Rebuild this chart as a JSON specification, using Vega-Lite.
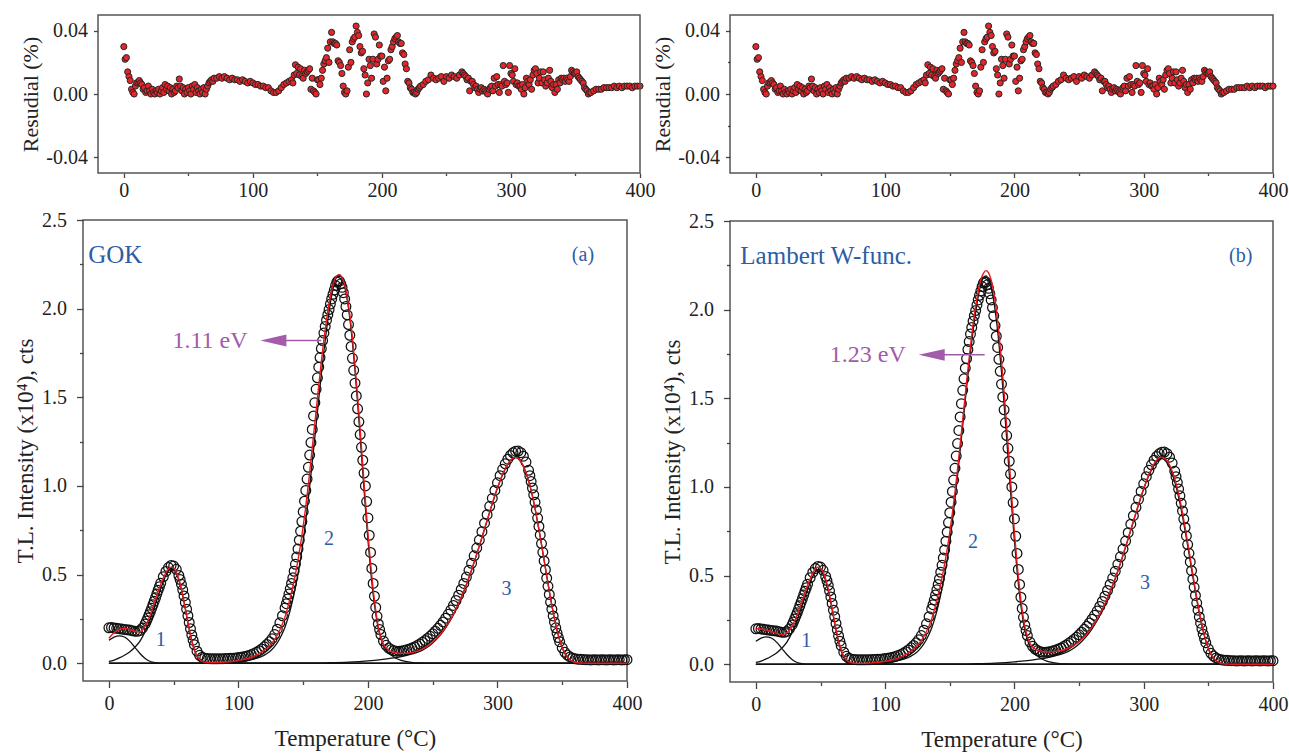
{
"$schema": "https://vega.github.io/schema/vega-lite/v6.json",
"padding": {"left": 13, "top": 14, "right": 0, "bottom": 0},
"config": {
  "font": "Liberation Serif",
  "view": {"stroke": "#555555", "strokeWidth": 1.5},
  "axis": {"domain": false, "grid": false, "labelFont": "Liberation Serif", "labelFontSize": 20, "labelColor": "#222222", "titleFont": "Liberation Serif", "titleFontSize": 23, "titleFontWeight": "normal", "titleColor": "#222222", "tickColor": "#444444", "tickWidth": 1.3, "labelOverlap": false, "labelFlush": false, "labelBound": false},
  "text": {"font": "Liberation Serif"}
},
"datasets": {
"tl": [
{"t":0,"i":0.200},{"t":2,"i":0.202},{"t":4,"i":0.199},{"t":6,"i":0.197},{"t":8,"i":0.195},{"t":10,"i":0.193},{"t":12,"i":0.191},{"t":14,"i":0.189},{"t":16,"i":0.187},{"t":18,"i":0.184},{"t":20,"i":0.181},{"t":22,"i":0.180},{"t":24,"i":0.185},{"t":26,"i":0.199},{"t":28,"i":0.222},{"t":29,"i":0.238},{"t":30,"i":0.255},{"t":31,"i":0.273},{"t":32,"i":0.291},{"t":33,"i":0.310},{"t":34,"i":0.330},{"t":35,"i":0.350},{"t":36,"i":0.370},{"t":37,"i":0.391},{"t":38,"i":0.412},{"t":39,"i":0.432},{"t":40,"i":0.452},{"t":42,"i":0.488},{"t":44,"i":0.518},{"t":46,"i":0.540},{"t":48,"i":0.552},{"t":50,"i":0.548},{"t":52,"i":0.530},{"t":54,"i":0.495},{"t":55,"i":0.472},{"t":56,"i":0.445},{"t":57,"i":0.414},{"t":58,"i":0.380},{"t":59,"i":0.343},{"t":60,"i":0.305},{"t":61,"i":0.268},{"t":62,"i":0.230},{"t":63,"i":0.194},{"t":64,"i":0.160},{"t":65,"i":0.130},{"t":66,"i":0.105},{"t":68,"i":0.068},{"t":70,"i":0.045},{"t":72,"i":0.034},{"t":74,"i":0.029},{"t":76,"i":0.027},{"t":78,"i":0.026},{"t":80,"i":0.025},{"t":82,"i":0.025},{"t":84,"i":0.025},{"t":86,"i":0.026},{"t":88,"i":0.026},{"t":90,"i":0.027},{"t":92,"i":0.027},{"t":94,"i":0.028},{"t":96,"i":0.029},{"t":98,"i":0.030},{"t":100,"i":0.032},{"t":102,"i":0.034},{"t":104,"i":0.037},{"t":106,"i":0.040},{"t":108,"i":0.044},{"t":110,"i":0.049},{"t":112,"i":0.055},{"t":114,"i":0.062},{"t":116,"i":0.071},{"t":118,"i":0.081},{"t":120,"i":0.093},{"t":122,"i":0.106},{"t":124,"i":0.121},{"t":126,"i":0.139},{"t":128,"i":0.162},{"t":130,"i":0.192},{"t":132,"i":0.228},{"t":134,"i":0.268},{"t":136,"i":0.312},{"t":137,"i":0.336},{"t":138,"i":0.362},{"t":139,"i":0.390},{"t":140,"i":0.420},{"t":141,"i":0.450},{"t":142,"i":0.482},{"t":143,"i":0.519},{"t":144,"i":0.558},{"t":145,"i":0.600},{"t":146,"i":0.645},{"t":147,"i":0.694},{"t":148,"i":0.745},{"t":149,"i":0.799},{"t":150,"i":0.855},{"t":151,"i":0.914},{"t":152,"i":0.975},{"t":153,"i":1.039},{"t":154,"i":1.105},{"t":155,"i":1.174},{"t":156,"i":1.245},{"t":157,"i":1.319},{"t":158,"i":1.395},{"t":159,"i":1.470},{"t":160,"i":1.545},{"t":161,"i":1.610},{"t":162,"i":1.670},{"t":163,"i":1.724},{"t":164,"i":1.775},{"t":165,"i":1.820},{"t":166,"i":1.862},{"t":167,"i":1.900},{"t":168,"i":1.935},{"t":169,"i":1.966},{"t":170,"i":1.995},{"t":171,"i":2.026},{"t":172,"i":2.055},{"t":173,"i":2.081},{"t":174,"i":2.105},{"t":175,"i":2.130},{"t":176,"i":2.150},{"t":177,"i":2.158},{"t":178,"i":2.155},{"t":179,"i":2.140},{"t":180,"i":2.120},{"t":181,"i":2.090},{"t":182,"i":2.055},{"t":183,"i":2.012},{"t":184,"i":1.965},{"t":185,"i":1.910},{"t":186,"i":1.850},{"t":187,"i":1.787},{"t":188,"i":1.720},{"t":189,"i":1.652},{"t":190,"i":1.580},{"t":191,"i":1.508},{"t":192,"i":1.435},{"t":193,"i":1.362},{"t":194,"i":1.290},{"t":195,"i":1.218},{"t":196,"i":1.145},{"t":197,"i":1.073},{"t":198,"i":1.000},{"t":199,"i":0.912},{"t":200,"i":0.820},{"t":201,"i":0.722},{"t":202,"i":0.625},{"t":203,"i":0.535},{"t":204,"i":0.450},{"t":205,"i":0.378},{"t":206,"i":0.315},{"t":207,"i":0.265},{"t":208,"i":0.222},{"t":209,"i":0.190},{"t":210,"i":0.162},{"t":212,"i":0.125},{"t":214,"i":0.101},{"t":216,"i":0.086},{"t":218,"i":0.077},{"t":220,"i":0.071},{"t":222,"i":0.068},{"t":224,"i":0.068},{"t":226,"i":0.069},{"t":228,"i":0.072},{"t":230,"i":0.076},{"t":232,"i":0.080},{"t":234,"i":0.086},{"t":236,"i":0.092},{"t":238,"i":0.100},{"t":240,"i":0.108},{"t":242,"i":0.118},{"t":244,"i":0.128},{"t":246,"i":0.140},{"t":248,"i":0.152},{"t":250,"i":0.166},{"t":252,"i":0.181},{"t":254,"i":0.197},{"t":256,"i":0.214},{"t":258,"i":0.233},{"t":260,"i":0.254},{"t":262,"i":0.276},{"t":264,"i":0.300},{"t":266,"i":0.326},{"t":268,"i":0.354},{"t":270,"i":0.384},{"t":272,"i":0.416},{"t":274,"i":0.450},{"t":276,"i":0.486},{"t":278,"i":0.524},{"t":280,"i":0.564},{"t":282,"i":0.606},{"t":284,"i":0.650},{"t":286,"i":0.695},{"t":288,"i":0.742},{"t":290,"i":0.790},{"t":292,"i":0.838},{"t":294,"i":0.885},{"t":296,"i":0.930},{"t":298,"i":0.975},{"t":300,"i":1.018},{"t":302,"i":1.058},{"t":304,"i":1.094},{"t":306,"i":1.125},{"t":308,"i":1.151},{"t":310,"i":1.172},{"t":312,"i":1.187},{"t":314,"i":1.196},{"t":316,"i":1.197},{"t":318,"i":1.188},{"t":320,"i":1.168},{"t":322,"i":1.135},{"t":324,"i":1.088},{"t":325,"i":1.058},{"t":326,"i":1.025},{"t":327,"i":0.988},{"t":328,"i":0.950},{"t":329,"i":0.908},{"t":330,"i":0.865},{"t":331,"i":0.819},{"t":332,"i":0.772},{"t":333,"i":0.724},{"t":334,"i":0.675},{"t":335,"i":0.626},{"t":336,"i":0.577},{"t":337,"i":0.528},{"t":338,"i":0.480},{"t":339,"i":0.434},{"t":340,"i":0.388},{"t":341,"i":0.345},{"t":342,"i":0.305},{"t":343,"i":0.267},{"t":344,"i":0.232},{"t":345,"i":0.200},{"t":346,"i":0.170},{"t":347,"i":0.145},{"t":348,"i":0.122},{"t":350,"i":0.087},{"t":352,"i":0.062},{"t":354,"i":0.046},{"t":356,"i":0.036},{"t":358,"i":0.029},{"t":360,"i":0.025},{"t":362,"i":0.023},{"t":364,"i":0.022},{"t":366,"i":0.021},{"t":368,"i":0.020},{"t":370,"i":0.020},{"t":372,"i":0.019},{"t":374,"i":0.020},{"t":376,"i":0.020},{"t":378,"i":0.019},{"t":380,"i":0.020},{"t":382,"i":0.020},{"t":384,"i":0.019},{"t":386,"i":0.020},{"t":388,"i":0.020},{"t":390,"i":0.019},{"t":392,"i":0.020},{"t":394,"i":0.020},{"t":396,"i":0.019},{"t":398,"i":0.020},{"t":400,"i":0.020}
],
"res": [
{"t":0,"r":0.030},{"t":1,"r":0.022},{"t":2,"r":0.023},{"t":3,"r":0.014},{"t":4,"r":0.011},{"t":5,"r":0.0085},{"t":6,"r":0.003},{"t":7,"r":0.001},{"t":8,"r":0.000},{"t":9,"r":0.005},{"t":10,"r":0.007},{"t":11,"r":0.0075},{"t":12,"r":0.0085},{"t":13,"r":0.007},{"t":14,"r":0.006},{"t":15,"r":0.003},{"t":16,"r":0.004},{"t":17,"r":0.001},{"t":18,"r":0.002},{"t":19,"r":0.005},{"t":20,"r":0.002},{"t":21,"r":0.000},{"t":22,"r":0.003},{"t":23,"r":0.001},{"t":24,"r":0.000},{"t":25,"r":0.002},{"t":26,"r":0.001},{"t":27,"r":0.003},{"t":28,"r":0.000},{"t":29,"r":0.002},{"t":30,"r":0.004},{"t":31,"r":0.001},{"t":32,"r":0.006},{"t":33,"r":0.003},{"t":34,"r":0.005},{"t":35,"r":0.002},{"t":36,"r":0.004},{"t":37,"r":0.000},{"t":38,"r":0.003},{"t":39,"r":0.001},{"t":40,"r":0.002},{"t":41,"r":0.005},{"t":42,"r":0.004},{"t":43,"r":0.0095},{"t":44,"r":0.005},{"t":45,"r":0.002},{"t":46,"r":0.004},{"t":47,"r":0.000},{"t":48,"r":0.003},{"t":49,"r":0.001},{"t":50,"r":0.004},{"t":51,"r":0.002},{"t":52,"r":0.000},{"t":53,"r":0.005},{"t":54,"r":0.003},{"t":55,"r":0.006},{"t":56,"r":0.001},{"t":57,"r":0.004},{"t":58,"r":0.002},{"t":59,"r":0.000},{"t":60,"r":0.003},{"t":61,"r":0.001},{"t":62,"r":0.004},{"t":63,"r":0.000},{"t":64,"r":0.003},{"t":65,"r":0.005},{"t":66,"r":0.007},{"t":67,"r":0.008},{"t":68,"r":0.009},{"t":69,"r":0.008},{"t":70,"r":0.010},{"t":72,"r":0.010},{"t":74,"r":0.011},{"t":76,"r":0.010},{"t":78,"r":0.011},{"t":80,"r":0.010},{"t":82,"r":0.009},{"t":84,"r":0.010},{"t":86,"r":0.009},{"t":88,"r":0.009},{"t":90,"r":0.008},{"t":92,"r":0.009},{"t":94,"r":0.008},{"t":96,"r":0.007},{"t":98,"r":0.008},{"t":100,"r":0.007},{"t":102,"r":0.006},{"t":104,"r":0.006},{"t":106,"r":0.005},{"t":108,"r":0.005},{"t":110,"r":0.004},{"t":112,"r":0.004},{"t":114,"r":0.002},{"t":116,"r":0.001},{"t":118,"r":0.001},{"t":120,"r":0.002},{"t":122,"r":0.004},{"t":124,"r":0.006},{"t":126,"r":0.007},{"t":128,"r":0.008},{"t":130,"r":0.009},{"t":131,"r":0.007},{"t":132,"r":0.012},{"t":133,"r":0.0185},{"t":134,"r":0.013},{"t":135,"r":0.017},{"t":136,"r":0.012},{"t":137,"r":0.016},{"t":138,"r":0.011},{"t":139,"r":0.010},{"t":140,"r":0.015},{"t":141,"r":0.013},{"t":142,"r":0.014},{"t":143,"r":0.015},{"t":144,"r":0.016},{"t":145,"r":0.003},{"t":146,"r":0.010},{"t":147,"r":0.002},{"t":148,"r":0.001},{"t":149,"r":0.000},{"t":150,"r":0.009},{"t":151,"r":0.009},{"t":152,"r":0.006},{"t":153,"r":0.010},{"t":154,"r":0.015},{"t":155,"r":0.019},{"t":156,"r":0.021},{"t":157,"r":0.023},{"t":158,"r":0.029},{"t":159,"r":0.020},{"t":160,"r":0.033},{"t":161,"r":0.039},{"t":162,"r":0.033},{"t":163,"r":0.032},{"t":164,"r":0.032},{"t":165,"r":0.031},{"t":166,"r":0.021},{"t":167,"r":0.020},{"t":168,"r":0.018},{"t":169,"r":0.013},{"t":170,"r":0.005},{"t":171,"r":0.001},{"t":172,"r":0.000},{"t":173,"r":0.002},{"t":174,"r":0.017},{"t":175,"r":0.028},{"t":176,"r":0.020},{"t":177,"r":0.033},{"t":178,"r":0.035},{"t":179,"r":0.036},{"t":180,"r":0.043},{"t":181,"r":0.039},{"t":182,"r":0.037},{"t":183,"r":0.030},{"t":184,"r":0.026},{"t":185,"r":0.027},{"t":186,"r":0.016},{"t":187,"r":0.012},{"t":188,"r":0.000},{"t":189,"r":0.007},{"t":190,"r":0.022},{"t":191,"r":0.018},{"t":192,"r":0.010},{"t":193,"r":0.022},{"t":194,"r":0.038},{"t":195,"r":0.036},{"t":196,"r":0.019},{"t":197,"r":0.022},{"t":198,"r":0.031},{"t":199,"r":0.024},{"t":200,"r":0.024},{"t":201,"r":0.008},{"t":202,"r":0.017},{"t":203,"r":0.002},{"t":204,"r":0.010},{"t":205,"r":0.021},{"t":206,"r":0.022},{"t":207,"r":0.028},{"t":208,"r":0.030},{"t":209,"r":0.033},{"t":210,"r":0.035},{"t":211,"r":0.036},{"t":212,"r":0.037},{"t":213,"r":0.033},{"t":214,"r":0.032},{"t":215,"r":0.032},{"t":216,"r":0.026},{"t":217,"r":0.025},{"t":218,"r":0.019},{"t":219,"r":0.016},{"t":220,"r":0.008},{"t":221,"r":0.007},{"t":222,"r":0.004},{"t":223,"r":0.003},{"t":224,"r":0.001},{"t":225,"r":0.001},{"t":226,"r":0.000},{"t":227,"r":0.001},{"t":228,"r":0.003},{"t":229,"r":0.004},{"t":230,"r":0.005},{"t":232,"r":0.006},{"t":234,"r":0.008},{"t":236,"r":0.009},{"t":238,"r":0.012},{"t":240,"r":0.010},{"t":242,"r":0.009},{"t":244,"r":0.010},{"t":246,"r":0.011},{"t":248,"r":0.008},{"t":250,"r":0.011},{"t":252,"r":0.010},{"t":254,"r":0.012},{"t":256,"r":0.011},{"t":258,"r":0.010},{"t":260,"r":0.012},{"t":262,"r":0.014},{"t":263,"r":0.013},{"t":264,"r":0.012},{"t":265,"r":0.011},{"t":266,"r":0.009},{"t":267,"r":0.010},{"t":268,"r":0.002},{"t":269,"r":0.008},{"t":270,"r":0.008},{"t":271,"r":0.006},{"t":272,"r":0.004},{"t":273,"r":0.005},{"t":274,"r":0.003},{"t":275,"r":0.001},{"t":276,"r":0.003},{"t":277,"r":0.004},{"t":278,"r":0.002},{"t":279,"r":0.003},{"t":280,"r":0.002},{"t":281,"r":0.001},{"t":282,"r":0.000},{"t":283,"r":0.003},{"t":284,"r":0.004},{"t":285,"r":0.005},{"t":286,"r":0.002},{"t":287,"r":0.010},{"t":288,"r":0.005},{"t":289,"r":0.011},{"t":290,"r":0.006},{"t":291,"r":0.001},{"t":292,"r":0.006},{"t":293,"r":0.005},{"t":294,"r":0.018},{"t":295,"r":0.008},{"t":296,"r":0.006},{"t":297,"r":0.007},{"t":298,"r":0.001},{"t":299,"r":0.018},{"t":300,"r":0.013},{"t":301,"r":0.012},{"t":302,"r":0.008},{"t":303,"r":0.016},{"t":304,"r":0.006},{"t":305,"r":0.007},{"t":306,"r":0.005},{"t":307,"r":0.005},{"t":308,"r":0.003},{"t":309,"r":0.006},{"t":310,"r":0.000},{"t":311,"r":0.004},{"t":312,"r":0.010},{"t":313,"r":0.008},{"t":314,"r":0.006},{"t":315,"r":0.009},{"t":316,"r":0.003},{"t":317,"r":0.012},{"t":318,"r":0.015},{"t":319,"r":0.016},{"t":320,"r":0.013},{"t":321,"r":0.007},{"t":322,"r":0.010},{"t":323,"r":0.014},{"t":324,"r":0.007},{"t":325,"r":0.014},{"t":326,"r":0.009},{"t":327,"r":0.005},{"t":328,"r":0.007},{"t":329,"r":0.010},{"t":330,"r":0.015},{"t":331,"r":0.008},{"t":332,"r":0.004},{"t":333,"r":0.006},{"t":334,"r":0.001},{"t":335,"r":0.006},{"t":336,"r":0.003},{"t":337,"r":0.009},{"t":338,"r":0.007},{"t":339,"r":0.010},{"t":340,"r":0.009},{"t":341,"r":0.010},{"t":342,"r":0.008},{"t":343,"r":0.010},{"t":344,"r":0.009},{"t":345,"r":0.008},{"t":346,"r":0.011},{"t":347,"r":0.015},{"t":348,"r":0.014},{"t":349,"r":0.013},{"t":350,"r":0.013},{"t":351,"r":0.014},{"t":352,"r":0.011},{"t":353,"r":0.010},{"t":354,"r":0.009},{"t":355,"r":0.008},{"t":356,"r":0.007},{"t":357,"r":0.004},{"t":358,"r":0.003},{"t":359,"r":0.002},{"t":360,"r":0.000},{"t":361,"r":0.001},{"t":362,"r":0.001},{"t":364,"r":0.002},{"t":366,"r":0.003},{"t":368,"r":0.003},{"t":370,"r":0.003},{"t":372,"r":0.004},{"t":374,"r":0.004},{"t":376,"r":0.004},{"t":378,"r":0.004},{"t":380,"r":0.005},{"t":382,"r":0.004},{"t":384,"r":0.005},{"t":386,"r":0.004},{"t":388,"r":0.005},{"t":390,"r":0.005},{"t":392,"r":0.005},{"t":394,"r":0.004},{"t":396,"r":0.005},{"t":398,"r":0.005},{"t":400,"r":0.005}
],
"fitA": [
{"t":0,"i":0.140},{"t":2,"i":0.158},{"t":4,"i":0.172},{"t":6,"i":0.183},{"t":8,"i":0.190},{"t":10,"i":0.195},{"t":12,"i":0.197},{"t":14,"i":0.195},{"t":16,"i":0.190},{"t":18,"i":0.185},{"t":20,"i":0.180},{"t":22,"i":0.177},{"t":24,"i":0.178},{"t":26,"i":0.188},{"t":28,"i":0.208},{"t":30,"i":0.238},{"t":32,"i":0.275},{"t":34,"i":0.318},{"t":36,"i":0.362},{"t":38,"i":0.405},{"t":40,"i":0.446},{"t":42,"i":0.482},{"t":44,"i":0.512},{"t":46,"i":0.533},{"t":48,"i":0.542},{"t":50,"i":0.536},{"t":52,"i":0.514},{"t":54,"i":0.475},{"t":56,"i":0.418},{"t":58,"i":0.348},{"t":60,"i":0.270},{"t":62,"i":0.194},{"t":64,"i":0.127},{"t":66,"i":0.076},{"t":68,"i":0.041},{"t":70,"i":0.021},{"t":72,"i":0.011},{"t":75,"i":0.005},{"t":80,"i":0.004},{"t":85,"i":0.005},{"t":90,"i":0.007},{"t":95,"i":0.010},{"t":100,"i":0.015},{"t":105,"i":0.023},{"t":110,"i":0.034},{"t":115,"i":0.050},{"t":120,"i":0.073},{"t":124,"i":0.098},{"t":128,"i":0.135},{"t":132,"i":0.188},{"t":136,"i":0.262},{"t":140,"i":0.370},{"t":142,"i":0.432},{"t":144,"i":0.502},{"t":146,"i":0.582},{"t":148,"i":0.672},{"t":150,"i":0.772},{"t":152,"i":0.885},{"t":154,"i":1.010},{"t":156,"i":1.145},{"t":158,"i":1.285},{"t":160,"i":1.425},{"t":162,"i":1.565},{"t":164,"i":1.700},{"t":166,"i":1.825},{"t":168,"i":1.935},{"t":170,"i":2.030},{"t":172,"i":2.105},{"t":174,"i":2.158},{"t":176,"i":2.186},{"t":178,"i":2.192},{"t":180,"i":2.175},{"t":182,"i":2.135},{"t":184,"i":2.065},{"t":186,"i":1.965},{"t":188,"i":1.835},{"t":190,"i":1.680},{"t":192,"i":1.505},{"t":194,"i":1.315},{"t":196,"i":1.118},{"t":198,"i":0.922},{"t":200,"i":0.735},{"t":202,"i":0.565},{"t":204,"i":0.418},{"t":206,"i":0.298},{"t":208,"i":0.207},{"t":210,"i":0.145},{"t":212,"i":0.108},{"t":214,"i":0.087},{"t":216,"i":0.075},{"t":218,"i":0.067},{"t":220,"i":0.062},{"t":224,"i":0.057},{"t":228,"i":0.056},{"t":232,"i":0.058},{"t":236,"i":0.064},{"t":240,"i":0.074},{"t":244,"i":0.088},{"t":248,"i":0.107},{"t":252,"i":0.132},{"t":256,"i":0.164},{"t":260,"i":0.204},{"t":264,"i":0.251},{"t":268,"i":0.306},{"t":272,"i":0.372},{"t":276,"i":0.446},{"t":280,"i":0.528},{"t":284,"i":0.617},{"t":288,"i":0.711},{"t":292,"i":0.807},{"t":296,"i":0.902},{"t":300,"i":0.990},{"t":304,"i":1.066},{"t":306,"i":1.097},{"t":308,"i":1.123},{"t":310,"i":1.144},{"t":312,"i":1.157},{"t":314,"i":1.161},{"t":316,"i":1.155},{"t":318,"i":1.138},{"t":320,"i":1.112},{"t":322,"i":1.076},{"t":324,"i":1.030},{"t":326,"i":0.975},{"t":328,"i":0.910},{"t":330,"i":0.835},{"t":332,"i":0.755},{"t":334,"i":0.670},{"t":336,"i":0.582},{"t":338,"i":0.494},{"t":340,"i":0.408},{"t":342,"i":0.326},{"t":344,"i":0.253},{"t":346,"i":0.187},{"t":348,"i":0.133},{"t":350,"i":0.089},{"t":352,"i":0.057},{"t":354,"i":0.035},{"t":356,"i":0.020},{"t":358,"i":0.011},{"t":362,"i":0.003},{"t":366,"i":0.001},{"t":370,"i":0.000},{"t":400,"i":0.000}
],
"fitB": [
{"t":0,"i":0.200},{"t":2,"i":0.200},{"t":4,"i":0.199},{"t":6,"i":0.197},{"t":8,"i":0.193},{"t":10,"i":0.189},{"t":12,"i":0.184},{"t":14,"i":0.179},{"t":16,"i":0.174},{"t":18,"i":0.170},{"t":20,"i":0.168},{"t":22,"i":0.170},{"t":24,"i":0.178},{"t":26,"i":0.193},{"t":28,"i":0.215},{"t":30,"i":0.245},{"t":32,"i":0.280},{"t":34,"i":0.320},{"t":36,"i":0.362},{"t":38,"i":0.404},{"t":40,"i":0.445},{"t":42,"i":0.482},{"t":44,"i":0.514},{"t":46,"i":0.537},{"t":48,"i":0.548},{"t":50,"i":0.543},{"t":52,"i":0.521},{"t":54,"i":0.481},{"t":56,"i":0.425},{"t":58,"i":0.355},{"t":60,"i":0.277},{"t":62,"i":0.200},{"t":64,"i":0.132},{"t":66,"i":0.080},{"t":68,"i":0.045},{"t":70,"i":0.024},{"t":72,"i":0.013},{"t":75,"i":0.007},{"t":80,"i":0.005},{"t":85,"i":0.006},{"t":90,"i":0.008},{"t":95,"i":0.011},{"t":100,"i":0.016},{"t":105,"i":0.024},{"t":110,"i":0.035},{"t":115,"i":0.051},{"t":120,"i":0.074},{"t":124,"i":0.099},{"t":128,"i":0.134},{"t":132,"i":0.185},{"t":136,"i":0.256},{"t":140,"i":0.360},{"t":142,"i":0.420},{"t":144,"i":0.488},{"t":146,"i":0.565},{"t":148,"i":0.650},{"t":150,"i":0.745},{"t":152,"i":0.852},{"t":154,"i":0.970},{"t":156,"i":1.100},{"t":158,"i":1.238},{"t":160,"i":1.380},{"t":162,"i":1.522},{"t":164,"i":1.662},{"t":166,"i":1.795},{"t":168,"i":1.915},{"t":170,"i":2.020},{"t":172,"i":2.105},{"t":174,"i":2.168},{"t":176,"i":2.205},{"t":178,"i":2.220},{"t":180,"i":2.208},{"t":182,"i":2.168},{"t":184,"i":2.098},{"t":186,"i":1.998},{"t":188,"i":1.868},{"t":190,"i":1.712},{"t":192,"i":1.535},{"t":194,"i":1.342},{"t":196,"i":1.140},{"t":198,"i":0.938},{"t":200,"i":0.745},{"t":202,"i":0.572},{"t":204,"i":0.425},{"t":206,"i":0.305},{"t":208,"i":0.215},{"t":210,"i":0.155},{"t":212,"i":0.118},{"t":214,"i":0.097},{"t":216,"i":0.086},{"t":218,"i":0.079},{"t":220,"i":0.075},{"t":224,"i":0.071},{"t":228,"i":0.070},{"t":232,"i":0.072},{"t":236,"i":0.077},{"t":240,"i":0.086},{"t":244,"i":0.099},{"t":248,"i":0.117},{"t":252,"i":0.141},{"t":256,"i":0.171},{"t":260,"i":0.209},{"t":264,"i":0.255},{"t":268,"i":0.310},{"t":272,"i":0.375},{"t":276,"i":0.448},{"t":280,"i":0.529},{"t":284,"i":0.618},{"t":288,"i":0.712},{"t":292,"i":0.808},{"t":296,"i":0.903},{"t":300,"i":0.992},{"t":304,"i":1.070},{"t":306,"i":1.103},{"t":308,"i":1.130},{"t":310,"i":1.151},{"t":312,"i":1.164},{"t":314,"i":1.168},{"t":316,"i":1.163},{"t":318,"i":1.148},{"t":320,"i":1.124},{"t":322,"i":1.090},{"t":324,"i":1.046},{"t":326,"i":0.992},{"t":328,"i":0.928},{"t":330,"i":0.854},{"t":332,"i":0.774},{"t":334,"i":0.688},{"t":336,"i":0.598},{"t":338,"i":0.508},{"t":340,"i":0.420},{"t":342,"i":0.336},{"t":344,"i":0.260},{"t":346,"i":0.192},{"t":348,"i":0.136},{"t":350,"i":0.091},{"t":352,"i":0.058},{"t":354,"i":0.036},{"t":356,"i":0.021},{"t":358,"i":0.011},{"t":362,"i":0.003},{"t":366,"i":0.001},{"t":370,"i":0.000},{"t":400,"i":0.000}
],
"comp": [
{"c":"0","t":0,"i":0.130},{"c":"0","t":4,"i":0.148},{"c":"0","t":8,"i":0.155},{"c":"0","t":12,"i":0.148},{"c":"0","t":16,"i":0.125},{"c":"0","t":20,"i":0.090},{"c":"0","t":24,"i":0.055},{"c":"0","t":28,"i":0.027},{"c":"0","t":32,"i":0.010},{"c":"0","t":36,"i":0.003},{"c":"0","t":40,"i":0.000},{"c":"0","t":400,"i":0.000},
{"c":"1","t":0,"i":0.010},{"c":"1","t":4,"i":0.018},{"c":"1","t":8,"i":0.030},{"c":"1","t":12,"i":0.045},{"c":"1","t":16,"i":0.063},{"c":"1","t":20,"i":0.090},{"c":"1","t":24,"i":0.125},{"c":"1","t":28,"i":0.180},{"c":"1","t":32,"i":0.250},{"c":"1","t":36,"i":0.335},{"c":"1","t":40,"i":0.420},{"c":"1","t":44,"i":0.495},{"c":"1","t":46,"i":0.522},{"c":"1","t":48,"i":0.535},{"c":"1","t":50,"i":0.530},{"c":"1","t":52,"i":0.508},{"c":"1","t":54,"i":0.470},{"c":"1","t":56,"i":0.414},{"c":"1","t":58,"i":0.345},{"c":"1","t":60,"i":0.268},{"c":"1","t":62,"i":0.192},{"c":"1","t":64,"i":0.125},{"c":"1","t":66,"i":0.074},{"c":"1","t":68,"i":0.040},{"c":"1","t":70,"i":0.020},{"c":"1","t":72,"i":0.009},{"c":"1","t":75,"i":0.003},{"c":"1","t":80,"i":0.001},{"c":"1","t":90,"i":0.000},{"c":"1","t":400,"i":0.000},
{"c":"2","t":0,"i":0.000},{"c":"2","t":60,"i":0.000},{"c":"2","t":80,"i":0.002},{"c":"2","t":90,"i":0.004},{"c":"2","t":100,"i":0.009},{"c":"2","t":110,"i":0.020},{"c":"2","t":115,"i":0.030},{"c":"2","t":120,"i":0.046},{"c":"2","t":124,"i":0.065},{"c":"2","t":128,"i":0.095},{"c":"2","t":132,"i":0.140},{"c":"2","t":136,"i":0.205},{"c":"2","t":140,"i":0.300},{"c":"2","t":142,"i":0.360},{"c":"2","t":144,"i":0.430},{"c":"2","t":146,"i":0.505},{"c":"2","t":148,"i":0.590},{"c":"2","t":150,"i":0.690},{"c":"2","t":152,"i":0.805},{"c":"2","t":154,"i":0.930},{"c":"2","t":156,"i":1.065},{"c":"2","t":158,"i":1.205},{"c":"2","t":160,"i":1.345},{"c":"2","t":162,"i":1.490},{"c":"2","t":164,"i":1.630},{"c":"2","t":166,"i":1.760},{"c":"2","t":168,"i":1.880},{"c":"2","t":170,"i":1.985},{"c":"2","t":172,"i":2.075},{"c":"2","t":174,"i":2.140},{"c":"2","t":176,"i":2.180},{"c":"2","t":178,"i":2.190},{"c":"2","t":180,"i":2.170},{"c":"2","t":182,"i":2.125},{"c":"2","t":184,"i":2.050},{"c":"2","t":186,"i":1.945},{"c":"2","t":188,"i":1.810},{"c":"2","t":190,"i":1.650},{"c":"2","t":192,"i":1.470},{"c":"2","t":194,"i":1.275},{"c":"2","t":196,"i":1.075},{"c":"2","t":198,"i":0.880},{"c":"2","t":200,"i":0.695},{"c":"2","t":202,"i":0.530},{"c":"2","t":204,"i":0.390},{"c":"2","t":206,"i":0.280},{"c":"2","t":208,"i":0.195},{"c":"2","t":210,"i":0.140},{"c":"2","t":212,"i":0.102},{"c":"2","t":214,"i":0.075},{"c":"2","t":216,"i":0.058},{"c":"2","t":218,"i":0.045},{"c":"2","t":220,"i":0.035},{"c":"2","t":222,"i":0.027},{"c":"2","t":225,"i":0.018},{"c":"2","t":230,"i":0.009},{"c":"2","t":235,"i":0.004},{"c":"2","t":240,"i":0.002},{"c":"2","t":250,"i":0.000},{"c":"2","t":400,"i":0.000},
{"c":"3","t":0,"i":0.000},{"c":"3","t":150,"i":0.000},{"c":"3","t":170,"i":0.003},{"c":"3","t":185,"i":0.007},{"c":"3","t":200,"i":0.014},{"c":"3","t":210,"i":0.021},{"c":"3","t":220,"i":0.030},{"c":"3","t":225,"i":0.036},{"c":"3","t":230,"i":0.044},{"c":"3","t":235,"i":0.054},{"c":"3","t":240,"i":0.067},{"c":"3","t":244,"i":0.082},{"c":"3","t":248,"i":0.102},{"c":"3","t":252,"i":0.128},{"c":"3","t":256,"i":0.160},{"c":"3","t":260,"i":0.200},{"c":"3","t":264,"i":0.247},{"c":"3","t":268,"i":0.303},{"c":"3","t":272,"i":0.369},{"c":"3","t":276,"i":0.443},{"c":"3","t":280,"i":0.525},{"c":"3","t":284,"i":0.614},{"c":"3","t":288,"i":0.708},{"c":"3","t":292,"i":0.804},{"c":"3","t":296,"i":0.899},{"c":"3","t":300,"i":0.988},{"c":"3","t":304,"i":1.064},{"c":"3","t":306,"i":1.096},{"c":"3","t":308,"i":1.122},{"c":"3","t":310,"i":1.143},{"c":"3","t":312,"i":1.156},{"c":"3","t":314,"i":1.160},{"c":"3","t":316,"i":1.154},{"c":"3","t":318,"i":1.137},{"c":"3","t":320,"i":1.111},{"c":"3","t":322,"i":1.075},{"c":"3","t":324,"i":1.029},{"c":"3","t":326,"i":0.974},{"c":"3","t":328,"i":0.909},{"c":"3","t":330,"i":0.834},{"c":"3","t":332,"i":0.754},{"c":"3","t":334,"i":0.669},{"c":"3","t":336,"i":0.581},{"c":"3","t":338,"i":0.493},{"c":"3","t":340,"i":0.407},{"c":"3","t":342,"i":0.325},{"c":"3","t":344,"i":0.252},{"c":"3","t":346,"i":0.186},{"c":"3","t":348,"i":0.132},{"c":"3","t":350,"i":0.088},{"c":"3","t":352,"i":0.056},{"c":"3","t":354,"i":0.034},{"c":"3","t":356,"i":0.019},{"c":"3","t":358,"i":0.010},{"c":"3","t":362,"i":0.003},{"c":"3","t":366,"i":0.001},{"c":"3","t":370,"i":0.000},{"c":"3","t":400,"i":0.000}
]
},
"spacing": -4,
"hconcat": [
{
"spacing": 8,
"vconcat": [
{
"width": 557, "height": 158,
"view": {"stroke": null},
"layer": [
{"data": {"name": "res"},
 "mark": {"type": "point", "shape": "circle", "filled": true, "fill": "#e3262b", "stroke": "#262626", "strokeWidth": 1, "size": 38, "opacity": 1},
 "encoding": {
  "x": {"field": "t", "type": "quantitative", "title": null, "scale": {"domain": [-20, 400], "range": [15, 557], "nice": false, "zero": false},
        "axis": {"values": [0,50,100,150,200,250,300,350,400], "format": "d", "labelExpr": "datum.value % 100 === 0 ? datum.label : ''", "tickSize": 4.5, "tickDash": {"condition": {"test": "datum.value % 100 !== 0", "value": [2.5, 10]}, "value": [10, 0]}, "labelPadding": 3}},
  "y": {"field": "r", "type": "quantitative", "title": "Resudial (%)", "scale": {"domain": [-0.05, 0.05], "nice": false, "zero": false},
        "axis": {"offset": -15, "values": [-0.04,-0.02,0,0.02,0.04], "labelExpr": "abs(abs(datum.value) - 0.02) < 0.001 ? '' : (datum.value < 0 ? '-' : '') + format(abs(datum.value), '.2f')", "tickSize": 4.5, "tickDash": {"condition": {"test": "abs(abs(datum.value) - 0.02) < 0.001", "value": [2.5, 10]}, "value": [10, 0]}, "labelPadding": 6, "titlePadding": 3, "titleFontSize": 22}}
 }},
{"data": {"values": [{}]},
 "mark": {"type": "rect", "fill": "white", "fillOpacity": 0, "stroke": "#555555", "strokeWidth": 1.5},
 "encoding": {"x": {"datum": -20}, "x2": {"datum": 400}, "y": {"datum": -0.05}, "y2": {"datum": 0.05}}}
]
},
{
"width": 544, "height": 461,
"layer": [
{"data": {"name": "comp"}, "mark": {"type": "line", "color": "#111111", "strokeWidth": 1.3, "interpolate": "monotone"},
 "encoding": {
  "x": {"field": "t", "type": "quantitative", "title": "Temperature (°C)", "scale": {"domain": [-20, 400], "nice": false, "zero": false},
        "axis": {"values": [0,50,100,150,200,250,300,350,400], "format": "d", "labelExpr": "datum.value % 100 === 0 ? datum.label : ''", "tickSize": 6.5, "tickDash": {"condition": {"test": "datum.value % 100 !== 0", "value": [3.5, 10]}, "value": [10, 0]}, "labelPadding": 6, "titlePadding": 14}},
  "y": {"field": "i", "type": "quantitative", "title": "T.L. Intensity (x10⁴), cts", "scale": {"domain": [-0.1, 2.5], "nice": false, "zero": false},
        "axis": {"values": [0,0.25,0.5,0.75,1,1.25,1.5,1.75,2,2.25,2.5], "labelExpr": "abs(datum.value*2 - round(datum.value*2)) < 0.01 ? format(datum.value, '.1f') : ''", "tickSize": 6.5, "tickDash": {"condition": {"test": "abs(datum.value*2 - round(datum.value*2)) > 0.01", "value": [3.5, 10]}, "value": [10, 0]}, "labelPadding": 10, "titlePadding": 4}},
  "detail": {"field": "c"}}},
{"data": {"name": "tl"}, "mark": {"type": "point", "shape": "circle", "filled": false, "color": "#111111", "strokeWidth": 1.25, "size": 95, "opacity": 1},
 "encoding": {"x": {"field": "t", "type": "quantitative", "title": "Temperature (°C)"}, "y": {"field": "i", "type": "quantitative", "title": "T.L. Intensity (x10⁴), cts"}}},
{"data": {"name": "fitA"}, "mark": {"type": "line", "color": "#e8191e", "strokeWidth": 1.4, "interpolate": "monotone"},
 "encoding": {"x": {"field": "t", "type": "quantitative", "title": "Temperature (°C)"}, "y": {"field": "i", "type": "quantitative", "title": "T.L. Intensity (x10⁴), cts"}}},
{"data": {"values": [{}]}, "mark": {"type": "text", "text": "GOK", "align": "left", "baseline": "middle", "fontSize": 25, "color": "#2b5ca8"}, "encoding": {"x": {"datum": -16}, "y": {"datum": 2.3}}},
{"data": {"values": [{}]}, "mark": {"type": "text", "text": "(a)", "align": "center", "baseline": "middle", "fontSize": 20, "color": "#2b5ca8"}, "encoding": {"x": {"datum": 366}, "y": {"datum": 2.3}}},
{"data": {"values": [{}]}, "mark": {"type": "text", "text": "1", "align": "center", "baseline": "middle", "fontSize": 20, "color": "#2b5ca8"}, "encoding": {"x": {"datum": 40}, "y": {"datum": 0.13}}},
{"data": {"values": [{}]}, "mark": {"type": "text", "text": "2", "align": "center", "baseline": "middle", "fontSize": 20, "color": "#2b5ca8"}, "encoding": {"x": {"datum": 170}, "y": {"datum": 0.7}}},
{"data": {"values": [{}]}, "mark": {"type": "text", "text": "3", "align": "center", "baseline": "middle", "fontSize": 20, "color": "#2b5ca8"}, "encoding": {"x": {"datum": 307}, "y": {"datum": 0.42}}},
{"data": {"values": [{}]}, "mark": {"type": "text", "text": "1.11 eV", "align": "right", "baseline": "middle", "fontSize": 24, "color": "#a35bab"}, "encoding": {"x": {"datum": 107}, "y": {"datum": 1.82}}},
{"data": {"values": [{}]}, "mark": {"type": "rule", "color": "#a35bab", "strokeWidth": 1.5}, "encoding": {"x": {"datum": 134}, "x2": {"datum": 164}, "y": {"datum": 1.82}}},
{"data": {"values": [{}]}, "mark": {"type": "point", "shape": "M-1,0L1,-0.46L1,0.46Z", "filled": true, "color": "#a35bab", "size": 676, "opacity": 1, "strokeWidth": 0}, "encoding": {"x": {"datum": 127}, "y": {"datum": 1.82}}}
]
}
]
},
{
"spacing": 8,
"vconcat": [
{
"width": 543, "height": 158,
"layer": [
{"data": {"name": "res"},
 "mark": {"type": "point", "shape": "circle", "filled": true, "fill": "#e3262b", "stroke": "#262626", "strokeWidth": 1, "size": 38, "opacity": 1},
 "encoding": {
  "x": {"field": "t", "type": "quantitative", "title": null, "scale": {"domain": [-20, 400], "nice": false, "zero": false},
        "axis": {"values": [0,50,100,150,200,250,300,350,400], "format": "d", "labelExpr": "datum.value % 100 === 0 ? datum.label : ''", "tickSize": 4.5, "tickDash": {"condition": {"test": "datum.value % 100 !== 0", "value": [2.5, 10]}, "value": [10, 0]}, "labelPadding": 3}},
  "y": {"field": "r", "type": "quantitative", "title": "Resudial (%)", "scale": {"domain": [-0.05, 0.05], "nice": false, "zero": false},
        "axis": {"values": [-0.04,-0.02,0,0.02,0.04], "labelExpr": "abs(abs(datum.value) - 0.02) < 0.001 ? '' : (datum.value < 0 ? '-' : '') + format(abs(datum.value), '.2f')", "tickSize": 4.5, "tickDash": {"condition": {"test": "abs(abs(datum.value) - 0.02) < 0.001", "value": [2.5, 10]}, "value": [10, 0]}, "labelPadding": 6, "titlePadding": 3, "titleFontSize": 22}}
 }}
]
},
{
"width": 543, "height": 461,
"layer": [
{"data": {"name": "comp"}, "mark": {"type": "line", "color": "#111111", "strokeWidth": 1.3, "interpolate": "monotone"},
 "encoding": {
  "x": {"field": "t", "type": "quantitative", "title": "Temperature (°C)", "scale": {"domain": [-20, 400], "nice": false, "zero": false},
        "axis": {"values": [0,50,100,150,200,250,300,350,400], "format": "d", "labelExpr": "datum.value % 100 === 0 ? datum.label : ''", "tickSize": 6.5, "tickDash": {"condition": {"test": "datum.value % 100 !== 0", "value": [3.5, 10]}, "value": [10, 0]}, "labelPadding": 6, "titlePadding": 14}},
  "y": {"field": "i", "type": "quantitative", "title": "T.L. Intensity (x10⁴), cts", "scale": {"domain": [-0.1, 2.5], "nice": false, "zero": false},
        "axis": {"values": [0,0.25,0.5,0.75,1,1.25,1.5,1.75,2,2.25,2.5], "labelExpr": "abs(datum.value*2 - round(datum.value*2)) < 0.01 ? format(datum.value, '.1f') : ''", "tickSize": 6.5, "tickDash": {"condition": {"test": "abs(datum.value*2 - round(datum.value*2)) > 0.01", "value": [3.5, 10]}, "value": [10, 0]}, "labelPadding": 10, "titlePadding": 4}},
  "detail": {"field": "c"}}},
{"data": {"name": "tl"}, "mark": {"type": "point", "shape": "circle", "filled": false, "color": "#111111", "strokeWidth": 1.25, "size": 95, "opacity": 1},
 "encoding": {"x": {"field": "t", "type": "quantitative", "title": "Temperature (°C)"}, "y": {"field": "i", "type": "quantitative", "title": "T.L. Intensity (x10⁴), cts"}}},
{"data": {"name": "fitB"}, "mark": {"type": "line", "color": "#e8191e", "strokeWidth": 1.4, "interpolate": "monotone"},
 "encoding": {"x": {"field": "t", "type": "quantitative", "title": "Temperature (°C)"}, "y": {"field": "i", "type": "quantitative", "title": "T.L. Intensity (x10⁴), cts"}}},
{"data": {"values": [{}]}, "mark": {"type": "text", "text": "Lambert W-func.", "align": "left", "baseline": "middle", "fontSize": 25, "color": "#2b5ca8"}, "encoding": {"x": {"datum": -12}, "y": {"datum": 2.3}}},
{"data": {"values": [{}]}, "mark": {"type": "text", "text": "(b)", "align": "center", "baseline": "middle", "fontSize": 20, "color": "#2b5ca8"}, "encoding": {"x": {"datum": 375}, "y": {"datum": 2.3}}},
{"data": {"values": [{}]}, "mark": {"type": "text", "text": "1", "align": "center", "baseline": "middle", "fontSize": 20, "color": "#2b5ca8"}, "encoding": {"x": {"datum": 39}, "y": {"datum": 0.13}}},
{"data": {"values": [{}]}, "mark": {"type": "text", "text": "2", "align": "center", "baseline": "middle", "fontSize": 20, "color": "#2b5ca8"}, "encoding": {"x": {"datum": 168}, "y": {"datum": 0.69}}},
{"data": {"values": [{}]}, "mark": {"type": "text", "text": "3", "align": "center", "baseline": "middle", "fontSize": 20, "color": "#2b5ca8"}, "encoding": {"x": {"datum": 301}, "y": {"datum": 0.46}}},
{"data": {"values": [{}]}, "mark": {"type": "text", "text": "1.23 eV", "align": "right", "baseline": "middle", "fontSize": 24, "color": "#a35bab"}, "encoding": {"x": {"datum": 116}, "y": {"datum": 1.745}}},
{"data": {"values": [{}]}, "mark": {"type": "rule", "color": "#a35bab", "strokeWidth": 1.5}, "encoding": {"x": {"datum": 143}, "x2": {"datum": 177}, "y": {"datum": 1.745}}},
{"data": {"values": [{}]}, "mark": {"type": "point", "shape": "M-1,0L1,-0.46L1,0.46Z", "filled": true, "color": "#a35bab", "size": 676, "opacity": 1, "strokeWidth": 0}, "encoding": {"x": {"datum": 136}, "y": {"datum": 1.745}}}
]
}
]
}
]
}
